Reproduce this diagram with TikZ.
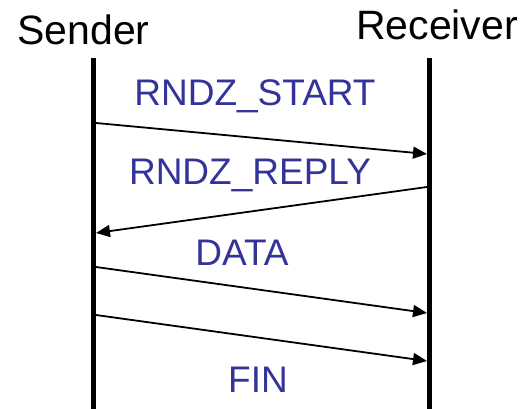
\documentclass[tikz,border=0pt]{standalone}
\usepackage{fontspec}
\setmainfont{Liberation Sans}
\usetikzlibrary{arrows.meta}
\definecolor{msgblue}{RGB}{51,51,153}
\begin{document}
\begin{tikzpicture}[x=1pt,y=-1pt,
  actor/.style={anchor=base,inner sep=0pt,font=\fontsize{41}{41}\selectfont},
  msg/.style={anchor=base,inner sep=0pt,text=msgblue,font=\fontsize{37}{37}\selectfont},
  lifeline/.style={line width=5.5pt},
  arrowline/.style={line width=1.8pt,-{Triangle[length=14pt,width=12pt]}}]
\useasboundingbox (0,0) rectangle (525,409);
\node[actor] (sender) at (83.5,45) {Sender};
\node[actor] (receiver) at (437,40) {Receiver};
\coordinate (stop) at (93.3,58);
\coordinate (sbot) at (93.3,409);
\coordinate (rtop) at (429.5,58);
\coordinate (rbot) at (429.5,409);
\draw[lifeline] (stop) -- (sbot);
\draw[lifeline] (rtop) -- (rbot);
\coordinate (s1) at (96,123);
\coordinate (r1) at (427,154);
\coordinate (r2) at (427,187);
\coordinate (s2) at (96,233);
\coordinate (s3) at (96,267);
\coordinate (r3) at (427,313);
\coordinate (s4) at (96,315);
\coordinate (r4) at (427,361);
\draw[arrowline] (s1) -- (r1);
\draw[arrowline] (r2) -- (s2);
\draw[arrowline] (s3) -- (r3);
\draw[arrowline] (s4) -- (r4);
\node[msg] (m1) at (255,106) {RNDZ\_START};
\node[msg] (m2) at (250,185) {RNDZ\_REPLY};
\node[msg] (m3) at (242,265) {DATA};
\node[msg] (m4) at (258,392) {FIN};
\end{tikzpicture}
\end{document}
